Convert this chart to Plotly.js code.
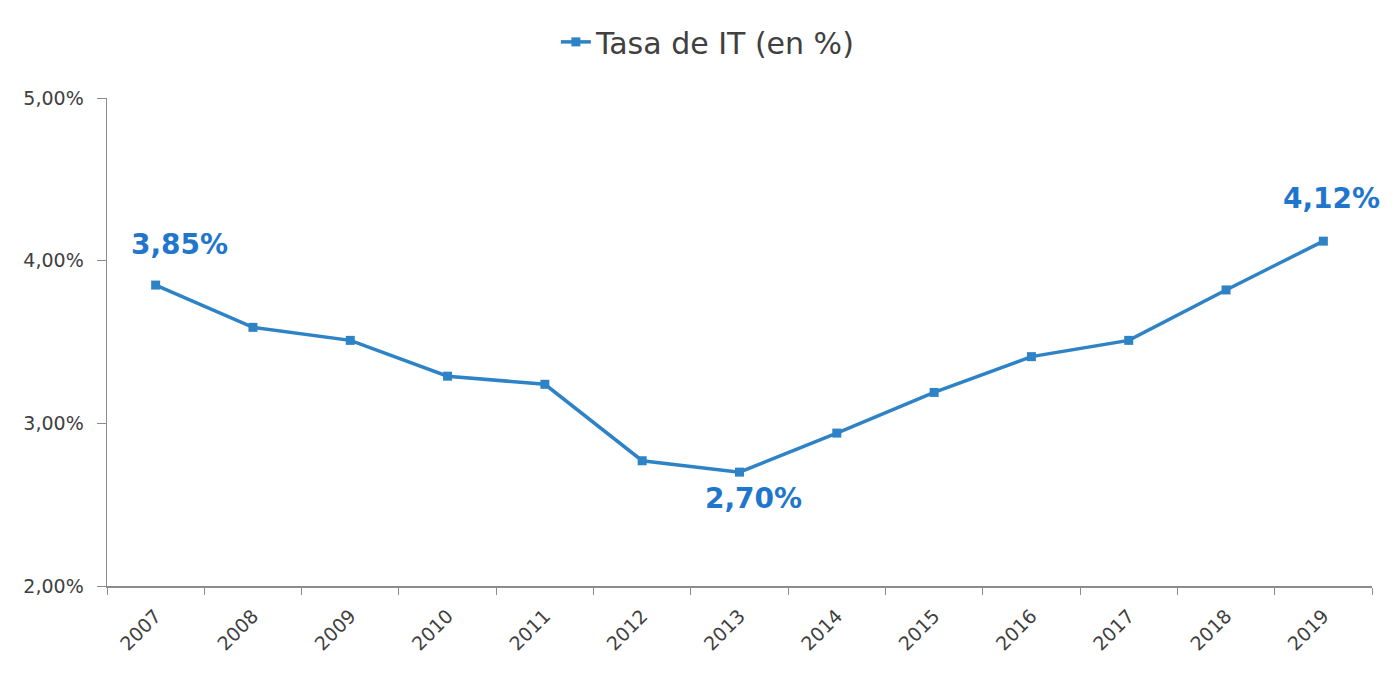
<!DOCTYPE html>
<html>
<head>
<meta charset="utf-8">
<script src="https://cdn.plot.ly/plotly-3.0.1.min.js"></script>
<style>html,body{margin:0;padding:0;background:#fff;}#chart{width:1400px;height:678px;}</style>
</head>
<body>
<div id="chart"></div>
<script>
const years = ["2007","2008","2009","2010","2011","2012","2013","2014","2015","2016","2017","2018","2019"];
const tasaIT = [3.85, 3.59, 3.51, 3.29, 3.24, 2.77, 2.70, 2.94, 3.19, 3.41, 3.51, 3.82, 4.12];
const labelledYears = ["2007", "2013", "2019"];
const seriesName = "Tasa de IT (en %)";

const lineColor = "#2e83c6";
const labelColor = "#1f76cc";
const fontFam = "'DejaVu Sans', sans-serif";

function fmt(v){ return v.toFixed(2).replace(".", ",") + "%"; }

const offsets = {"2007": {ys: 41, xs: 24}, "2013": {ys: -26, xs: 14}, "2019": {ys: 43, xs: 8}};
const annotations = labelledYears.map(y => {
  const i = years.indexOf(y);
  return {
    x: i, y: tasaIT[i], xref: "x", yref: "y",
    text: "<b>" + fmt(tasaIT[i]) + "</b>",
    showarrow: false, yshift: offsets[y].ys, xshift: offsets[y].xs,
    font: {family: fontFam, size: 28, color: labelColor}
  };
});

const trace = {
  x: years, y: tasaIT, type: "scatter", mode: "lines+markers", name: seriesName,
  line: {color: lineColor, width: 3.5},
  marker: {symbol: "square", size: 9, color: lineColor}
};

const layout = {
  width: 1400, height: 678,
  margin: {l: 107, r: 28, t: 98, b: 92},
  paper_bgcolor: "#fff", plot_bgcolor: "#fff",
  separators: ",.",
  font: {family: fontFam, color: "#404040"},
  showlegend: true,
  legend: {orientation: "h", x: 0.475, xanchor: "center", y: 1.115, yanchor: "middle",
           font: {family: fontFam, size: 30, color: "#404040"}},
  xaxis: {
    type: "category", tickson: "boundaries", ticks: "outside", ticklen: 7,
    tickcolor: "#8c8c8c", showline: true, linecolor: "#8c8c8c", linewidth: 1.5,
    showgrid: false, zeroline: false, tickangle: -45, range: [-0.5, 12.5],
    ticklabelstandoff: 10,
    tickfont: {family: fontFam, size: 19, color: "#404040"}
  },
  yaxis: {
    range: [2, 5], dtick: 1, tick0: 2, tickformat: ".2f", ticksuffix: "%",
    ticks: "outside", ticklen: 9, tickcolor: "#8c8c8c",
    showline: true, linecolor: "#8c8c8c", linewidth: 1.5,
    showgrid: false, zeroline: false, ticklabelstandoff: 9,
    tickfont: {family: fontFam, size: 19, color: "#404040"}
  },
  annotations: annotations
};

Plotly.newPlot("chart", [trace], layout, {displayModeBar: false, staticPlot: true});
</script>
</body>
</html>
